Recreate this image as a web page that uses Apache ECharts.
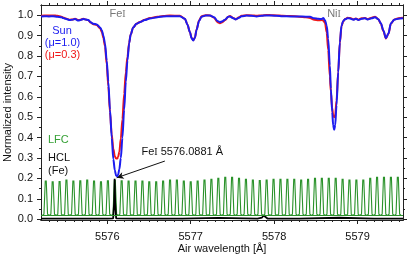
<!DOCTYPE html>
<html>
<head>
<meta charset="utf-8">
<script src="https://cdn.jsdelivr.net/npm/echarts@6/dist/echarts.min.js"></script>
<style>
html,body{margin:0;padding:0;background:#fff;}
#chart{width:415px;height:256px;}
</style>
</head>
<body>
<div id="chart"></div>
<script>
// ---------------- DATA ----------------
const wavelengths = [
5575.205,5575.25,5575.30,5575.35,5575.40,5575.45,5575.47,5575.50,5575.553,5575.58,
5575.613,5575.653,5575.68,5575.712,5575.74,5575.772,5575.80,5575.83,5575.873,5575.913,
5575.935,5575.952,5575.972,5575.993,5576.012,5576.032,5576.053,5576.072,5576.09,5576.105,
5576.118,5576.13,5576.144,5576.162,5576.181,5576.202,5576.222,5576.241,5576.262,5576.28,
5576.31,5576.35,5576.39,5576.45,5576.51,5576.60,5576.67,5576.75,5576.87,5576.93,
5576.96,5576.99,5577.01,5577.03,5577.05,5577.07,5577.10,5577.13,5577.18,5577.23,
5577.28,5577.32,5577.35,5577.38,5577.41,5577.45,5577.47,5577.51,5577.54,5577.58,
5577.61,5577.67,5577.73,5577.79,5577.85,5577.91,5577.97,5578.03,5578.10,5578.20,
5578.30,5578.38,5578.43,5578.48,5578.53,5578.57,5578.59,5578.61,5578.63,5578.648,
5578.668,5578.68,5578.696,5578.708,5578.72,5578.732,5578.748,5578.768,5578.788,5578.808,
5578.828,5578.85,5578.88,5578.91,5578.95,5578.98,5579.01,5579.05,5579.09,5579.12,
5579.17,5579.21,5579.25,5579.28,5579.31,5579.34,5579.37,5579.40,5579.44,5579.49,
5579.545
];
const sunMu10 = [
0.994,0.995,0.994,0.995,0.993,0.990,0.986,0.982,0.976,0.978,
0.981,0.974,0.977,0.981,0.979,0.976,0.966,0.958,0.955,0.940,
0.925,0.900,0.862,0.777,0.674,0.537,0.399,0.295,0.240,0.214,
0.210,0.218,0.245,0.300,0.399,0.537,0.674,0.777,0.862,0.905,
0.940,0.958,0.966,0.976,0.984,0.990,0.994,0.995,0.995,0.982,
0.955,0.918,0.888,0.876,0.889,0.928,0.972,0.993,0.998,0.998,
0.990,0.972,0.966,0.970,0.978,0.992,0.994,0.985,0.979,0.988,
0.995,0.998,0.997,0.994,0.997,0.999,0.998,0.997,0.995,0.994,
0.994,0.993,0.992,0.985,0.982,0.981,0.986,0.975,0.950,0.885,
0.754,0.640,0.526,0.460,0.438,0.460,0.559,0.721,0.868,0.950,
0.972,0.980,0.985,0.984,0.978,0.982,0.977,0.983,0.985,0.979,
0.985,0.990,0.980,0.960,0.925,0.887,0.910,0.960,0.978,0.983,
0.985
];
const sunMu03 = [
0.997,0.998,0.998,0.999,0.997,0.993,0.989,0.984,0.978,0.979,
0.982,0.976,0.978,0.982,0.979,0.975,0.964,0.956,0.952,0.936,
0.918,0.890,0.848,0.760,0.652,0.525,0.415,0.345,0.308,0.298,
0.297,0.305,0.330,0.395,0.490,0.615,0.720,0.795,0.865,0.905,
0.940,0.958,0.967,0.978,0.986,0.992,0.996,0.998,0.997,0.983,
0.955,0.918,0.889,0.877,0.890,0.930,0.974,0.995,1.000,0.999,
0.988,0.966,0.960,0.966,0.976,0.993,0.996,0.986,0.980,0.990,
0.997,1.000,0.999,0.997,0.999,1.001,1.000,0.999,0.997,0.996,
0.993,0.990,0.986,0.978,0.975,0.976,0.974,0.962,0.915,0.830,
0.700,0.625,0.545,0.510,0.500,0.512,0.580,0.720,0.865,0.945,
0.970,0.981,0.987,0.986,0.980,0.984,0.978,0.985,0.986,0.980,
0.988,0.992,0.980,0.958,0.922,0.886,0.908,0.958,0.979,0.985,
0.987
];
const lfcPeakWavelengths = [
5575.262,5575.345,5575.428,5575.510,5575.593,5575.676,5575.759,5575.841,5575.924,5576.007,
5576.090,5576.172,5576.255,5576.338,5576.421,5576.503,5576.586,5576.669,5576.752,5576.834,
5576.917,5577.000,5577.083,5577.165,5577.248,5577.331,5577.414,5577.496,5577.579,5577.662,
5577.745,5577.828,5577.910,5577.993,5578.076,5578.159,5578.241,5578.324,5578.407,5578.490,
5578.572,5578.655,5578.738,5578.821,5578.903,5578.986,5579.069,5579.152,5579.234,5579.317,
5579.400,5579.483
];
const lfcPeakHeights = [
0.187,0.183,0.185,0.192,0.187,0.188,0.192,0.187,0.183,0.188,
0.190,0.188,0.187,0.187,0.187,0.183,0.183,0.187,0.192,0.192,
0.187,0.183,0.187,0.192,0.195,0.200,0.205,0.205,0.200,0.195,
0.192,0.189,0.192,0.195,0.195,0.195,0.195,0.192,0.195,0.200,
0.200,0.200,0.200,0.195,0.192,0.192,0.192,0.200,0.205,0.205,
0.205,0.205
];
const lfcBaseline = 0.02;
const hclWavelengths = [5575.205,5575.6,5576.0,5576.07,5576.082,5576.088,5576.094,5576.106,5576.3,5576.9,5577.33,5577.8,5577.855,5577.875,5577.895,5577.92,5578.3,5578.78,5579.2,5579.545];
const hclIntensity   = [0.003,0.003,0.003,0.004,0.080,0.198,0.080,0.004,0.003,0.003,0.006,0.003,0.008,0.018,0.010,0.003,0.003,0.007,0.003,0.003];
const annotationStart = [5576.69, 0.285];
const annotationEnd = [5576.112, 0.203];
const xTickLabels = [5576, 5577, 5578, 5579];
const yTickLabels = [0.0,0.1,0.2,0.3,0.4,0.5,0.6,0.7,0.8,0.9,1.0];
const xRange = [5575.205, 5579.545];
const yRange = [-0.004, 1.05];

// ---------------- helpers ----------------
const xMinor = [];
for (let i = 5575.3 * 10; i <= 5579.5 * 10 + 0.01; i++) {
  const v = Math.round(i) / 10;
  if (Math.abs(v - Math.round(v)) > 1e-6) xMinor.push(v);
}
const yMinor = [];
for (let i = 0; i < 21; i++) {
  const v = Math.round(i * 5) / 100;
  if (i % 2 === 1) yMinor.push(v);
}
const zip = (a, b) => a.map((v, i) => [v, b[i]]);

const FONT = "'Liberation Sans', Arial, Helvetica, sans-serif";
const BLUE = '#1c1cf0';
const RED = '#f01818';
const GREEN = '#2a922a';

function xAxisDef(pos, ticks, len, labels, extra) {
  return Object.assign({
    type: 'value', position: pos, min: xRange[0], max: xRange[1], gridIndex: 0,
    axisLine: { show: true, onZero: false, lineStyle: { color: '#222', width: 1 } },
    axisTick: { show: true, inside: false, length: len, customValues: ticks, lineStyle: { color: '#222', width: 1 } },
    axisLabel: labels ? { show: true, customValues: labels, fontSize: 11, fontFamily: FONT, color: '#111', margin: 11,
      formatter: v => String(Math.round(v)) } : { show: false },
    splitLine: { show: false }
  }, extra || {});
}
function yAxisDef(pos, ticks, len, labels, extra) {
  return Object.assign({
    type: 'value', position: pos, min: yRange[0], max: yRange[1], gridIndex: 0,
    axisLine: { show: true, onZero: false, lineStyle: { color: '#222', width: 1 } },
    axisTick: { show: true, inside: false, length: len, customValues: ticks, lineStyle: { color: '#222', width: 1 } },
    axisLabel: labels ? { show: true, customValues: labels, fontSize: 11, fontFamily: FONT, color: '#111', margin: 8,
      formatter: v => Number(v).toFixed(1) } : { show: false },
    splitLine: { show: false }
  }, extra || {});
}

const chart = echarts.init(document.getElementById('chart'), null, { renderer: 'canvas' });
chart.setOption({
  animation: false,
  backgroundColor: '#fff',
  grid: { left: 41, right: 12, top: 5, bottom: 36, containLabel: false, outerBoundsMode: 'none' },
  xAxis: [
    xAxisDef('bottom', xTickLabels, 4, xTickLabels, {
      name: 'Air wavelength [Å]', nameLocation: 'middle', nameGap: 23, nameMoveOverlap: false,
      nameTextStyle: { fontSize: 11, fontFamily: FONT, color: '#111' }
    }),
    xAxisDef('bottom', xMinor, 2, null),
    xAxisDef('top', xTickLabels, 4, null),
    xAxisDef('top', xMinor, 2, null)
  ],
  yAxis: [
    yAxisDef('left', yTickLabels, 4, yTickLabels, {
      name: 'Normalized intensity', nameLocation: 'middle', nameGap: 28, nameMoveOverlap: false,
      nameTextStyle: { fontSize: 11, fontFamily: FONT, color: '#111' }
    }),
    yAxisDef('left', yMinor, 2, null),
    yAxisDef('right', yTickLabels, 4, null),
    yAxisDef('right', yMinor, 2, null)
  ],
  series: [
    {
      type: 'custom', name: 'LFC', xAxisIndex: 0, yAxisIndex: 0, z: 2, clip: true,
      data: zip(lfcPeakWavelengths, lfcPeakHeights),
      renderItem: function (params, api) {
        const top = api.coord([api.value(0), api.value(1)]);
        const base = api.coord([api.value(0), lfcBaseline]);
        const x = top[0];
        return {
          type: 'polyline',
          shape: { points: [[x - 3.2, base[1]], [x - 1.8, base[1] - 1], [x - 0.5, top[1]], [x + 0.5, top[1]], [x + 1.8, base[1] - 1], [x + 3.2, base[1]]] },
          style: { stroke: GREEN, lineWidth: 1.1, fill: null }
        };
      },
      markLine: {
        silent: true, symbol: ['none', 'none'], label: { show: false },
        lineStyle: { color: GREEN, width: 1.1, type: 'solid' },
        data: [{ yAxis: lfcBaseline }]
      }
    },
    {
      type: 'line', name: 'HCL', xAxisIndex: 0, yAxisIndex: 0, z: 3,
      data: zip(hclWavelengths, hclIntensity),
      showSymbol: false, symbol: 'none',
      lineStyle: { color: '#000', width: 1.8 },
      markLine: {
        silent: true, symbol: ['none', 'arrow'], symbolSize: [5, 7], label: { show: false },
        lineStyle: { color: '#111', width: 1, type: 'solid' },
        data: [[{ coord: annotationStart }, { coord: annotationEnd }]]
      }
    },
    {
      type: 'line', name: 'Sun mu=0.3', xAxisIndex: 0, yAxisIndex: 0, z: 4,
      data: zip(wavelengths, sunMu03),
      showSymbol: false, symbol: 'none', smooth: 0.3, smoothMonotone: 'x',
      lineStyle: { color: RED, width: 2 }
    },
    {
      type: 'line', name: 'Sun mu=1.0', xAxisIndex: 0, yAxisIndex: 0, z: 5,
      data: zip(wavelengths, sunMu10),
      showSymbol: false, symbol: 'none', smooth: 0.3, smoothMonotone: 'x',
      lineStyle: { color: BLUE, width: 2 }
    }
  ],
  graphic: [
    { type: 'text', z: 100, style: { text: 'Sun', x: 62, y: 31, fill: BLUE, font: '11px ' + FONT, textAlign: 'center', textVerticalAlign: 'middle' } },
    { type: 'text', z: 100, style: { text: '(μ=1.0)', x: 62.5, y: 43, fill: BLUE, font: '11px ' + FONT, textAlign: 'center', textVerticalAlign: 'middle' } },
    { type: 'text', z: 100, style: { text: '(μ=0.3)', x: 62.5, y: 55, fill: RED, font: '11px ' + FONT, textAlign: 'center', textVerticalAlign: 'middle' } },
    { type: 'text', z: 100, style: { text: 'LFC', x: 48, y: 140, fill: '#35a035', font: '11px ' + FONT, textAlign: 'left', textVerticalAlign: 'middle' } },
    { type: 'text', z: 100, style: { text: 'HCL', x: 48, y: 157.5, fill: '#111', font: '11px ' + FONT, textAlign: 'left', textVerticalAlign: 'middle' } },
    { type: 'text', z: 100, style: { text: '(Fe)', x: 48, y: 170.5, fill: '#111', font: '11px ' + FONT, textAlign: 'left', textVerticalAlign: 'middle' } },
    { type: 'text', z: 100, style: {
        text: '{a|Fe}{b|I}{a| 5576.0881 Å}', x: 141.5, y: 152, textAlign: 'left', textVerticalAlign: 'middle',
        rich: { a: { fontSize: 11, fontFamily: FONT, fill: '#111' }, b: { fontSize: 10, fontFamily: "'Liberation Serif', serif", fill: '#111' } } } },
    { type: 'text', z: 100, style: {
        text: '{a|Fe}{b|I}', x: 117.5, y: 14, textAlign: 'center', textVerticalAlign: 'middle',
        rich: { a: { fontSize: 11, fontFamily: FONT, fill: '#777' }, b: { fontSize: 10, fontFamily: "'Liberation Serif', serif", fill: '#777' } } } },
    { type: 'text', z: 100, style: {
        text: '{a|Ni}{b|I}', x: 334, y: 14, textAlign: 'center', textVerticalAlign: 'middle',
        rich: { a: { fontSize: 11, fontFamily: FONT, fill: '#777' }, b: { fontSize: 10, fontFamily: "'Liberation Serif', serif", fill: '#777' } } } }
  ]
});
</script>
</body>
</html>
